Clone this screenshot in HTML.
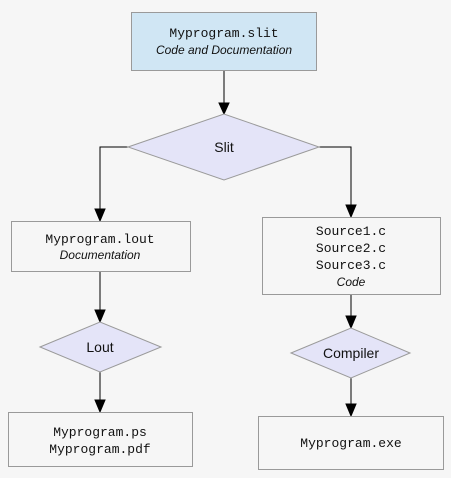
<!DOCTYPE html>
<html><head><style>body{margin:0;background:#f6f6f6}svg{display:block}
.m{font-family:"Liberation Mono",monospace;font-size:13px;fill:#111}
.i{font-family:"Liberation Sans",sans-serif;font-size:12px;font-style:italic;fill:#111}
.s{font-family:"Liberation Sans",sans-serif;font-size:14px;fill:#111}
</style></head><body>
<svg width="451" height="478" viewBox="0 0 451 478">
<defs><marker id="a" markerWidth="10" markerHeight="12" refX="5" refY="11" orient="auto-start-reverse" markerUnits="userSpaceOnUse"><path d="M0,0 L10,0 L5,12 Z" fill="#000" transform="rotate(0)"/></marker></defs>
<g stroke="#000" stroke-width="1" fill="none">
<path d="M224 70 V113"/><path d="M219 103 L229 103 L224 114 Z" fill="#000"/>
<path d="M128 147 H100 V220"/><path d="M95 209 L105 209 L100 221 Z" fill="#000"/>
<path d="M319 147 H351 V216"/><path d="M346 205 L356 205 L351 217 Z" fill="#000"/>
<path d="M100 271 V321"/><path d="M95 310 L105 310 L100 322 Z" fill="#000"/>
<path d="M100 372 V411"/><path d="M95 400 L105 400 L100 412 Z" fill="#000"/>
<path d="M351 294 V327"/><path d="M346 316 L356 316 L351 328 Z" fill="#000"/>
<path d="M351 378 V415"/><path d="M346 404 L356 404 L351 416 Z" fill="#000"/>
</g>
<g stroke="#9a9a9a" stroke-width="1">
<rect x="131.5" y="12.5" width="185" height="58" fill="#d0e6f4"/>
<polygon points="128,147 224,114 319,147 224,180" fill="#e4e4f8"/>
<rect x="11.5" y="221.5" width="179" height="50" fill="#f6f6f6"/>
<rect x="262.5" y="217.5" width="178" height="77" fill="#f6f6f6"/>
<polygon points="40,347 100,322 161,347 100,372" fill="#e4e4f8"/>
<polygon points="291,353 351,328 410,353 351,378" fill="#e4e4f8"/>
<rect x="8.5" y="412.5" width="184" height="54" fill="#f6f6f6"/>
<rect x="258.5" y="416.5" width="185" height="53" fill="#f6f6f6"/>
</g>
<g text-anchor="middle">
<text class="m" x="224" y="37">Myprogram.slit</text>
<text class="i" x="224" y="54">Code and Documentation</text>
<text class="s" x="224" y="152">Slit</text>
<text class="m" x="100" y="243">Myprogram.lout</text>
<text class="i" x="100" y="259">Documentation</text>
<text class="m" x="351" y="235">Source1.c</text>
<text class="m" x="351" y="252">Source2.c</text>
<text class="m" x="351" y="269">Source3.c</text>
<text class="i" x="351" y="286">Code</text>
<text class="s" x="100" y="352">Lout</text>
<text class="s" x="351" y="358">Compiler</text>
<text class="m" x="100" y="436">Myprogram.ps</text>
<text class="m" x="100" y="453">Myprogram.pdf</text>
<text class="m" x="351" y="447">Myprogram.exe</text>
</g>
</svg>
</body></html>
